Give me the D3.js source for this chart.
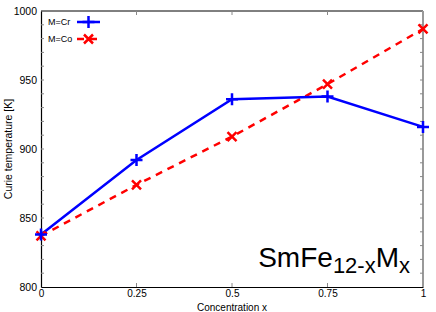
<!DOCTYPE html>
<html>
<head>
<meta charset="utf-8">
<script src="https://cdn.jsdelivr.net/npm/d3@7"></script>
<style>
  body { margin: 0; background: #fff; }
  svg text { font-family: "Liberation Sans", Arial, sans-serif; fill: #000; }
</style>
</head>
<body>
<svg id="chart"></svg>
<script>
// chart data
const concentrations = [0, 0.25, 0.5, 0.75, 1];
const curieCr = [838, 892, 936, 938, 916];
const curieCo = [837, 874, 909, 947, 987];
const xTicks = [0, 0.25, 0.5, 0.75, 1];
const xTickLabels = ["0", "0.25", "0.5", "0.75", "1"];
const yTicks = [800, 850, 900, 950, 1000];
const seriesNames = ["M=Cr", "M=Co"];

const width = 436, height = 312;
const margin = { left: 41, right: 13, top: 11, bottom: 25 };

const svg = d3.select("#chart")
    .attr("width", width)
    .attr("height", height);

const xScale = d3.scaleLinear()
    .domain([0, 1])
    .range([margin.left, width - margin.right]);
const yScale = d3.scaleLinear()
    .domain([800, 1000])
    .range([height - margin.bottom, margin.top]);

// frame: top black, right gray
svg.append("line")
    .attr("x1", xScale(0)).attr("x2", xScale(1))
    .attr("y1", yScale(1000)).attr("y2", yScale(1000))
    .attr("stroke", "#000").attr("stroke-width", 1);
svg.append("line")
    .attr("x1", xScale(1)).attr("x2", xScale(1))
    .attr("y1", yScale(1000)).attr("y2", yScale(800))
    .attr("stroke", "#999").attr("stroke-width", 2);

// mirror ticks on right and top
const minorY = d3.range(810, 1000, 10);
svg.append("g").selectAll("line")
    .data(minorY)
    .join("line")
    .attr("x1", xScale(1) - 3).attr("x2", xScale(1))
    .attr("y1", d => yScale(d)).attr("y2", d => yScale(d))
    .attr("stroke", "#888");
svg.append("g").selectAll("line")
    .data(xTicks.slice(1, -1))
    .join("line")
    .attr("x1", d => xScale(d)).attr("x2", d => xScale(d))
    .attr("y1", yScale(1000)).attr("y2", yScale(1000) + 4)
    .attr("stroke", "#888");

// y axis
const yAxis = d3.axisLeft(yScale).tickValues(yTicks)
    .tickFormat(d3.format("d")).tickSize(0).tickPadding(4);
const yG = svg.append("g")
    .attr("transform", `translate(${margin.left},0)`)
    .call(yAxis);
yG.select(".domain").attr("stroke", "#000").attr("stroke-width", 1.2);
yG.selectAll("text").style("font-size", "10.5px");

// inward y ticks
svg.append("g").selectAll("line")
    .data(minorY)
    .join("line")
    .attr("x1", margin.left).attr("x2", margin.left + 3)
    .attr("y1", d => yScale(d)).attr("y2", d => yScale(d))
    .attr("stroke", "#888");

// x axis
const xAxis = d3.axisBottom(xScale).tickValues(xTicks)
    .tickFormat((d, i) => xTickLabels[i]).tickSize(0).tickPadding(3);
const xG = svg.append("g")
    .attr("transform", `translate(0,${height - margin.bottom})`)
    .call(xAxis);
xG.select(".domain").attr("stroke", "#000").attr("stroke-width", 1.2);
xG.selectAll("text").style("font-size", "10px");

svg.append("g").selectAll("line")
    .data(xTicks.slice(1, -1))
    .join("line")
    .attr("x1", d => xScale(d)).attr("x2", d => xScale(d))
    .attr("y1", yScale(800)).attr("y2", yScale(800) - 4)
    .attr("stroke", "#888");

// axis titles
svg.append("text")
    .attr("x", (xScale(0) + xScale(1)) / 2)
    .attr("y", 311)
    .attr("text-anchor", "middle")
    .style("font-size", "10px")
    .text("Concentration x");
svg.append("text")
    .attr("transform", `translate(12,${(yScale(800) + yScale(1000)) / 2}) rotate(-90)`)
    .attr("text-anchor", "middle")
    .style("font-size", "10.5px")
    .text("Curie temperature [K]");

// series
const crData = concentrations.map((c, i) => ({ x: c, y: curieCr[i] }));
const coData = concentrations.map((c, i) => ({ x: c, y: curieCo[i] }));

const line = d3.line()
    .x(d => xScale(d.x))
    .y(d => yScale(d.y));

svg.append("path")
    .datum(coData)
    .attr("d", line)
    .attr("fill", "none")
    .attr("stroke", "#ff0000")
    .attr("stroke-width", 2.5)
    .attr("stroke-dasharray", "7,6");

svg.append("path")
    .datum(crData)
    .attr("d", line)
    .attr("fill", "none")
    .attr("stroke", "#0000ff")
    .attr("stroke-width", 2.5);

function plusPath(cx, cy, s) {
    return `M${cx - s},${cy}H${cx + s}M${cx},${cy - s}V${cy + s}`;
}
function crossPath(cx, cy, s) {
    return `M${cx - s},${cy - s}L${cx + s},${cy + s}M${cx - s},${cy + s}L${cx + s},${cy - s}`;
}

svg.append("g").selectAll("path")
    .data(coData)
    .join("path")
    .attr("d", d => crossPath(xScale(d.x), yScale(d.y), 4.5))
    .attr("stroke", "#ff0000")
    .attr("stroke-width", 2.5);

svg.append("g").selectAll("path")
    .data(crData)
    .join("path")
    .attr("d", d => plusPath(xScale(d.x), yScale(d.y), 6))
    .attr("stroke", "#0000ff")
    .attr("stroke-width", 2.5);

// legend
const legend = svg.append("g");
const legendRows = [
    { name: seriesNames[0], color: "#0000ff", dash: null, marker: plusPath, size: 6 },
    { name: seriesNames[1], color: "#ff0000", dash: "7,6", marker: crossPath, size: 4.5 }
];
legendRows.forEach((r, i) => {
    const y = 22 + i * 17;
    legend.append("text")
        .attr("x", 48).attr("y", y + 3)
        .style("font-size", "9px")
        .text(r.name);
    legend.append("line")
        .attr("x1", 77).attr("x2", 100)
        .attr("y1", y).attr("y2", y)
        .attr("stroke", r.color).attr("stroke-width", 2.5)
        .attr("stroke-dasharray", r.dash);
    legend.append("path")
        .attr("d", r.marker(88.5, y, r.size))
        .attr("stroke", r.color).attr("stroke-width", 2.5);
});

// formula label
const formula = svg.append("text")
    .attr("x", 410).attr("y", 267)
    .attr("text-anchor", "end")
    .style("font-size", "28px");
formula.append("tspan").text("SmFe");
formula.append("tspan").attr("dy", 6).style("font-size", "22px").text("12-x");
formula.append("tspan").attr("dy", -6).text("M");
formula.append("tspan").attr("dy", 6).style("font-size", "22px").text("x");
</script>
</body>
</html>
